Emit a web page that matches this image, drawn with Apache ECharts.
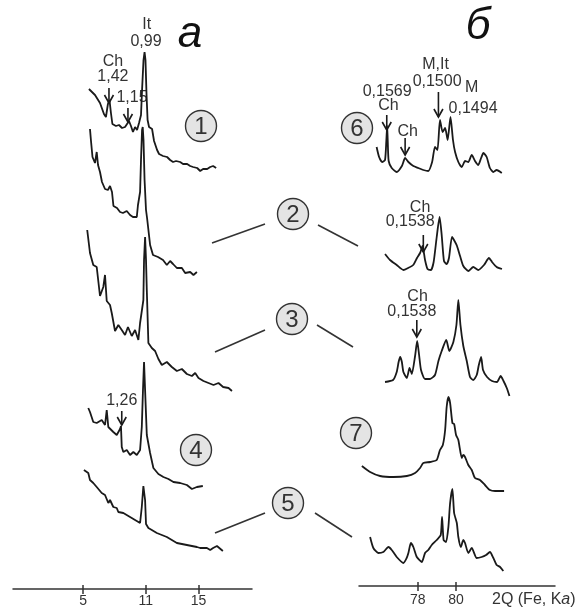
<!DOCTYPE html>
<html>
<head>
<meta charset="utf-8">
<script src="https://cdn.jsdelivr.net/npm/echarts@6/dist/echarts.min.js"></script>
<style>
  html, body { margin: 0; padding: 0; background: #fff; }
  #chart { width: 579px; height: 610px; }
</style>
</head>
<body>
<div id="chart"></div>
<script>
// --- данные: дифрактограммы (x = 2θ, y = интенсивность со сдвигом) ---
// левая панель "а"
const leftTickPos = [6.25, 11, 15];
const leftTickText = ['5', '11', '15'];
const leftTrace1 = [[6.69,500],[7.15,494],[7.53,486],[7.83,475],[7.98,472],[8.13,485],[8.25,489],[8.36,476],[8.47,465],[8.74,463],[8.97,464],[9.20,461],[9.43,462],[9.58,464],[9.73,468],[9.88,463],[10.03,457],[10.19,462],[10.34,459],[10.49,466],[10.64,474],[10.72,499],[10.83,529],[10.91,537],[10.98,529],[11.06,494],[11.14,469],[11.25,462],[11.48,460],[11.63,448],[11.86,439],[12.01,435],[12.31,433],[12.62,432],[12.85,429],[13.07,427],[13.30,428],[13.61,427],[13.83,425],[14.14,425],[14.37,423],[14.59,422],[14.90,421],[15.13,418],[15.35,420],[15.66,420],[15.89,422],[16.11,423],[16.34,421]];
const leftTrace2 = [[6.77,460],[6.84,449],[6.96,432],[7.15,426],[7.28,437],[7.38,424],[7.53,417],[7.68,407],[7.91,400],[8.13,399],[8.29,403],[8.44,397],[8.55,383],[8.82,381],[9.05,377],[9.27,376],[9.56,378],[9.81,374],[10.03,372],[10.32,372],[10.41,384],[10.57,397],[10.64,429],[10.72,459],[10.77,462],[10.83,449],[10.91,409],[11.02,379],[11.10,371],[11.33,344],[11.55,334],[11.93,332],[12.31,329],[12.60,324],[12.85,328],[13.07,325],[13.36,321],[13.74,321],[13.99,316],[14.37,317],[14.62,314],[14.88,317]];
const leftTrace3 = [[6.56,359],[6.77,336],[7.02,324],[7.28,322],[7.53,293],[7.78,302],[7.91,314],[8.04,288],[8.29,284],[8.42,276],[8.67,258],[8.92,264],[9.18,259],[9.43,254],[9.65,262],[9.94,253],[10.19,259],[10.44,249],[10.57,266],[10.82,289],[10.87,329],[10.95,352],[11.02,329],[11.08,299],[11.20,246],[11.46,241],[11.71,238],[11.96,230],[12.22,224],[12.60,227],[12.98,222],[13.36,218],[13.74,220],[14.12,215],[14.50,213],[14.75,216],[15.00,211],[15.38,208],[15.76,206],[16.14,204],[16.52,206],[16.87,202],[17.28,201],[17.54,198]];
const leftTrace4 = [[6.64,181],[6.77,177],[7.02,167],[7.28,166],[7.66,169],[7.91,164],[8.04,179],[8.16,162],[8.54,157],[8.80,154],[9.05,160],[9.12,163],[9.18,142],[9.30,137],[9.56,139],[9.81,134],[10.06,137],[10.32,134],[10.57,139],[10.70,162],[10.79,199],[10.87,227],[10.95,199],[11.08,154],[11.33,136],[11.58,121],[11.96,115],[12.34,112],[12.72,110],[13.10,107],[13.61,106],[14.12,104],[14.50,100],[14.88,102],[15.33,103]];
const leftTrace5 = [[6.31,119],[6.64,116],[6.77,109],[7.02,106],[7.28,102],[7.66,96],[7.91,94],[8.16,86],[8.29,89],[8.54,82],[8.80,81],[8.92,77],[9.30,76],[9.43,74],[9.81,72],[10.19,69],[10.57,66],[10.70,82],[10.82,103],[10.87,105],[10.95,89],[11.02,65],[11.20,61],[11.46,59],[11.84,56],[12.22,54],[12.60,52],[12.98,49],[13.36,46],[14.12,44],[14.88,42],[15.13,41],[15.64,41],[15.89,39],[16.11,41],[16.40,43],[16.85,38]];

// правая панель "б"
const rightTickPos = [78, 80];
const rightTrace6 = [[75.85,439],[75.98,429],[76.14,424],[76.29,426],[76.36,446],[76.40,460],[76.43,446],[76.48,425],[76.64,418],[76.90,414],[77.17,420],[77.34,428],[77.51,424],[77.77,420],[78.03,418],[78.29,416],[78.55,415],[78.75,424],[78.90,439],[79.03,436],[79.16,466],[79.30,454],[79.43,458],[79.56,446],[79.71,469],[79.84,446],[79.95,434],[80.12,424],[80.30,419],[80.47,425],[80.64,424],[80.82,431],[80.99,425],[81.16,421],[81.31,428],[81.43,433],[81.60,429],[81.77,418],[81.95,414],[82.12,416],[82.39,413]];
const rightTrace2 = [[76.29,332],[76.55,326],[76.90,321],[77.25,316],[77.49,318],[77.76,321],[77.96,328],[78.12,333],[78.25,340],[78.38,326],[78.51,317],[78.69,316],[78.83,324],[78.99,349],[79.14,369],[79.25,351],[79.37,325],[79.51,322],[79.63,328],[79.79,349],[79.95,344],[80.05,340],[80.21,330],[80.38,320],[80.64,315],[80.90,319],[81.16,316],[81.46,321],[81.72,328],[81.88,324],[82.12,319],[82.40,317]];
const rightTrace3 = [[76.29,204],[76.71,206],[76.90,214],[77.00,224],[77.08,229],[77.17,224],[77.25,214],[77.43,208],[77.57,218],[77.69,212],[77.86,230],[77.97,245],[78.07,231],[78.17,216],[78.38,207],[78.64,207],[78.90,211],[79.08,225],[79.25,235],[79.49,246],[79.65,235],[79.86,244],[80.02,261],[80.12,286],[80.23,261],[80.38,240],[80.56,225],[80.73,209],[80.90,206],[81.08,211],[81.19,221],[81.31,229],[81.41,216],[81.62,209],[81.88,205],[82.14,204],[82.33,210],[82.48,205],[82.65,198],[82.79,190]];
const rightTrace7 = [[75.08,120],[75.51,114],[76.03,110],[76.73,109],[77.43,110],[77.86,113],[78.12,118],[78.29,123],[78.64,124],[78.99,126],[79.16,136],[79.31,141],[79.43,156],[79.51,179],[79.60,189],[79.69,183],[79.81,163],[79.90,162],[80.00,151],[80.12,146],[80.30,128],[80.37,131],[80.47,129],[80.64,121],[80.82,116],[80.99,108],[81.25,106],[81.51,101],[81.77,96],[82.04,95],[82.51,95]];
const rightTrace5 = [[75.51,49],[75.68,38],[75.94,33],[76.20,34],[76.47,39],[76.64,36],[76.90,29],[77.25,23],[77.42,28],[77.51,33],[77.64,43],[77.77,39],[77.95,29],[78.21,24],[78.38,33],[78.55,36],[78.73,41],[78.99,46],[79.20,51],[79.27,69],[79.35,46],[79.48,44],[79.60,59],[79.69,83],[79.81,97],[79.90,73],[80.04,63],[80.12,49],[80.25,39],[80.38,46],[80.47,43],[80.64,33],[80.82,38],[81.08,28],[81.34,29],[81.57,31],[81.77,34],[81.95,28],[82.12,21],[82.30,19],[82.47,15]];

// подписи пиков
const leftNoteText = ['It', '0,99', 'Ch', '1,42', '1,15', '1,26'];
const leftNoteAt = [[11.08,564],[11.02,547],[8.51,527],[8.51,512],[9.96,491],[9.18,188]];
const leftArrows = [[8.21,501,486],[9.65,481,467],[9.18,178,164]];
const rightNoteText = ['0,1569', 'Ch', 'Ch', 'M,It', '0,1500', 'M', '0,1494', 'Ch', '0,1538', 'Ch', '0,1538'];
const rightNoteAt = [[76.40,494],[76.47,480],[77.47,454],[78.93,521],[79.01,504],[80.82,498],[80.89,477],[78.12,378],[77.60,364],[77.99,289],[77.69,274]];
const rightArrows = [[76.38,471,456],[77.34,448,431],[79.08,494,469],[78.29,351,334],[77.95,266,249]];

// номера образцов
const sampleNames = ['1', '2', '3', '4', '5', '6', '7'];

// --- оформление (позиции в пикселях) ---
const circleCenters = [[201,126],[293,214],[292,319],[196,450],[288,503],[357,128],[356,433]];
const connectors = [[212,243,265,224],[318,225,358,246],[215,352,265,330],[317,325,353,347],[215,533,265,513],[315,513,352,537]];
const FONT = '"Liberation Sans", Arial, sans-serif';
const INK = '#1a1a1a';
const TEXT = '#333';

const chart = echarts.init(document.getElementById('chart'));

function traceSeries(data, xIdx, yIdx, smooth) {
  return {
    type: 'line',
    data: data,
    xAxisIndex: xIdx,
    yAxisIndex: yIdx,
    showSymbol: false,
    symbol: 'none',
    smooth: smooth,
    lineStyle: { color: INK, width: 1.8 },
    silent: true,
    animation: false
  };
}

function bottomAxis(grid, min, max, ticks, inner, extra) {
  const ax = {
    type: 'value',
    gridIndex: grid,
    min: min,
    max: max,
    position: 'bottom',
    splitLine: { show: false },
    axisLine: { show: !inner, onZero: false, lineStyle: { color: TEXT, width: 1.5 } },
    axisTick: { show: true, inside: inner, length: inner ? 4 : 5, customValues: ticks, lineStyle: { color: TEXT, width: 1.5 } },
    axisLabel: { show: false }
  };
  return Object.assign(ax, extra || {});
}

const option = {
  animation: false,
  grid: [
    { left: 13, top: 0, width: 239, height: 589 },
    { left: 359, top: 0, width: 196, height: 586 }
  ],
  xAxis: [
    bottomAxis(0, 0.93, 19.06, leftTickPos, false, {
      axisLabel: {
        show: true, customValues: leftTickPos, margin: 5, fontSize: 14, color: TEXT, fontFamily: FONT,
        formatter: v => leftTickText[leftTickPos.findIndex(p => Math.abs(p - v) < 1e-6)] || ''
      }
    }),
    bottomAxis(0, 0.93, 19.06, leftTickPos, true),
    bottomAxis(1, 74.93, 85.17, rightTickPos, false, {
      axisLabel: { show: true, customValues: rightTickPos, margin: 7, fontSize: 14, color: TEXT, fontFamily: FONT }
    }),
    bottomAxis(1, 74.93, 85.17, rightTickPos, true)
  ],
  yAxis: [
    { type: 'value', gridIndex: 0, min: 0, max: 589, show: false },
    { type: 'value', gridIndex: 1, min: 0, max: 586, show: false }
  ],
  series: [
    traceSeries(leftTrace1, 0, 0, false),
    traceSeries(leftTrace2, 0, 0, false),
    traceSeries(leftTrace3, 0, 0, false),
    traceSeries(leftTrace4, 0, 0, false),
    traceSeries(leftTrace5, 0, 0, false),
    traceSeries(rightTrace6, 2, 1, 0.2),
    traceSeries(rightTrace2, 2, 1, 0.2),
    traceSeries(rightTrace3, 2, 1, 0.2),
    traceSeries(rightTrace7, 2, 1, 0.2),
    traceSeries(rightTrace5, 2, 1, 0.2)
  ]
};
chart.setOption(option);

// подписи и стрелки — через пересчёт координат данных в пиксели
function textEl(x, y, text, font, fill) {
  return {
    type: 'text', x: x, y: y, silent: true,
    style: { text: text, font: font, fill: fill || TEXT, align: 'center', verticalAlign: 'middle', textAlign: 'center', textVerticalAlign: 'middle' }
  };
}

function notes(finder, texts, at, arrows) {
  const els = [];
  texts.forEach((t, i) => {
    const p = chart.convertToPixel(finder, at[i]);
    els.push(textEl(p[0], p[1], t, '16px ' + FONT));
  });
  arrows.forEach(a => {
    const top = chart.convertToPixel(finder, [a[0], a[1]]);
    const tip = chart.convertToPixel(finder, [a[0], a[2]]);
    els.push({ type: 'polyline', silent: true, shape: { points: [top, tip] }, style: { stroke: INK, lineWidth: 1.6, fill: null } });
    els.push({ type: 'polyline', silent: true, shape: { points: [[tip[0] - 4.5, tip[1] - 8], tip, [tip[0] + 4.5, tip[1] - 8]] }, style: { stroke: INK, lineWidth: 1.6, fill: null } });
  });
  return els;
}

const graphics = [];
connectors.forEach(c => {
  graphics.push({ type: 'line', silent: true, shape: { x1: c[0], y1: c[1], x2: c[2], y2: c[3] }, style: { stroke: TEXT, lineWidth: 1.6 } });
});
circleCenters.forEach((c, i) => {
  graphics.push({ type: 'circle', silent: true, shape: { cx: c[0], cy: c[1], r: 15.5 }, style: { fill: '#e4e4e4', stroke: TEXT, lineWidth: 1.4 } });
  graphics.push(textEl(c[0], c[1] + 1, sampleNames[i], '24px ' + FONT));
});
graphics.push(...notes({ xAxisIndex: 0, yAxisIndex: 0 }, leftNoteText, leftNoteAt, leftArrows));
graphics.push(...notes({ xAxisIndex: 2, yAxisIndex: 1 }, rightNoteText, rightNoteAt, rightArrows));
// буквы панелей
graphics.push(textEl(190, 35, 'а', 'italic 44px ' + FONT, '#111'));
graphics.push(textEl(478, 27, 'б', 'italic 44px ' + FONT, '#111'));
// подпись оси
graphics.push({
  type: 'text', x: 492, y: 600, silent: true,
  style: {
    text: '2Q (Fe, K{i|a})', font: '16px ' + FONT, fill: TEXT, align: 'left', verticalAlign: 'middle',
    rich: { i: { font: 'italic 16px ' + FONT, fill: TEXT } }
  }
});

chart.setOption({ graphic: { elements: graphics } });
</script>
</body>
</html>
